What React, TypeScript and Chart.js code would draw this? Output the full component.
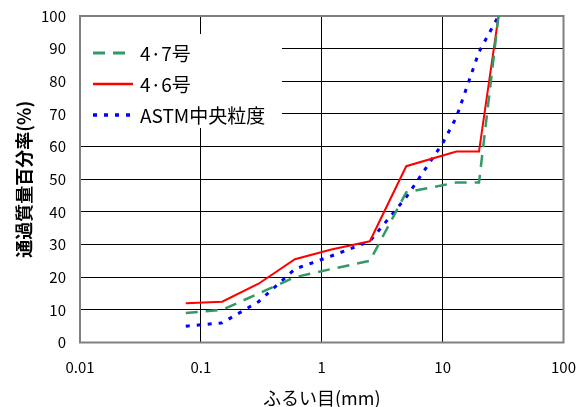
import React, { useEffect, useRef } from "react";
import { Chart, registerables } from "chart.js";

Chart.register(...registerables);

const xTickValues = [0.01, 0.1, 1, 10, 100];
const xTickLabels = ["0.01", "0.1", "1", "10", "100"];

const sieveCommon = [0.075, 0.15, 0.3, 0.6, 1.2, 2.5, 5, 13, 20, 29];
const pass47 = [9, 10, 15, 20, 22.5, 25, 46, 49, 49, 100];
const pass46 = [12, 12.5, 18, 25.5, 28.5, 31, 54, 58.5, 58.5, 100];
const sieveAstm = [0.075, 0.15, 0.3, 0.6, 1.2, 2.5, 5, 10, 13, 20, 29];
const passAstm = [5, 6, 12.5, 22.5, 26.5, 31, 44.5, 61, 69, 89, 100];

const seriesNames = ["4·7号", "4·6号", "ASTM中央粒度"];
const seriesColors = ["#339966", "#ff0000", "#0000ff"];
const seriesDash: number[][] = [[12, 8], [], [4, 7]];
const seriesWidth = [2.5, 2, 3];

const yTitle = "通過質量百分率(%)";
const xTitle = "ふるい目(mm)";
const FONT = "'Noto Sans CJK JP', 'Noto Sans', sans-serif";

const frame = {
  id: "frame",
  beforeDatasetsDraw(chart: any) {
    const { ctx, chartArea: a } = chart;
    ctx.save();
    ctx.strokeStyle = "#808080";
    ctx.lineWidth = 2;
    ctx.strokeRect(a.left, a.top, a.right - a.left, a.bottom - a.top);
    ctx.restore();
  },
  afterDatasetsDraw(chart: any) {
    const { ctx, chartArea: a } = chart;
    ctx.save();
    ctx.fillStyle = "#ffffff";
    const bx = a.left + 1;
    const by = 34;
    ctx.fillRect(bx, by, 282 - bx, 128 - by);
    const rows = [53, 84, 115];
    for (let i = 0; i < 3; i++) {
      ctx.beginPath();
      ctx.strokeStyle = seriesColors[i];
      ctx.lineWidth = seriesWidth[i] + 0.5;
      ctx.setLineDash(seriesDash[i]);
      ctx.moveTo(93, rows[i]);
      ctx.lineTo(133, rows[i]);
      ctx.stroke();
      ctx.setLineDash([]);
      ctx.fillStyle = "#000";
      ctx.font = `19px ${FONT}`;
      ctx.textBaseline = "middle";
      ctx.textAlign = "left";
      ctx.fillText(seriesNames[i], 140, rows[i] + 1);
    }
    ctx.restore();
  },
};

export default function App() {
  const ref = useRef<HTMLCanvasElement>(null);
  useEffect(() => {
    const mk = (xs: number[], ys: number[]) => xs.map((x, i) => ({ x, y: ys[i] }));
    const datas = [mk(sieveCommon, pass47), mk(sieveCommon, pass46), mk(sieveAstm, passAstm)];
    const chart = new Chart(ref.current as HTMLCanvasElement, {
      type: "line",
      data: {
        datasets: datas.map((d, i) => ({
          label: seriesNames[i],
          data: d,
          borderColor: seriesColors[i],
          backgroundColor: seriesColors[i],
          borderDash: seriesDash[i],
          borderWidth: seriesWidth[i],
          pointRadius: 0,
          tension: 0,
          fill: false,
        })),
      },
      options: {
        animation: false,
        responsive: false,
        maintainAspectRatio: false,
        layout: { padding: { top: 16, right: 19.5, left: 0, bottom: 0 } },
        plugins: { legend: { display: false }, tooltip: { enabled: false } },
        scales: {
          x: {
            type: "logarithmic",
            min: 0.01,
            max: 100,
            afterBuildTicks: (s: any) => {
              s.ticks = xTickValues.map((v) => ({ value: v }));
            },
            afterFit: (s: any) => {
              s.height = 64.5;
              s.paddingLeft = 0;
              s.paddingRight = 0;
            },
            ticks: {
              autoSkip: false,
              maxRotation: 0,
              padding: 16,
              color: "#000",
              font: { family: FONT, size: 15 },
              callback: (v: any) => {
                const i = xTickValues.findIndex((t) => Math.abs(t - Number(v)) < 1e-9);
                return i >= 0 ? xTickLabels[i] : "";
              },
            },
            grid: { color: "#000", lineWidth: 1, drawTicks: false },
            border: { display: false },
            title: {
              display: true,
              text: xTitle,
              color: "#000",
              font: { family: FONT, size: 18, lineHeight: 1 },
              padding: { top: 0, bottom: 0 },
            },
          },
          y: {
            min: 0,
            max: 100,
            afterFit: (s: any) => {
              s.width = 80;
              s.paddingTop = 0;
              s.paddingBottom = 0;
            },
            ticks: {
              stepSize: 10,
              padding: 14,
              color: "#000",
              font: { family: FONT, size: 15 },
            },
            grid: { color: "#000", lineWidth: 1, drawTicks: false },
            border: { display: false },
            title: {
              display: true,
              text: yTitle,
              color: "#000",
              font: { family: FONT, size: 18, weight: "bold", lineHeight: 1 },
              padding: { top: 15, bottom: 0 },
            },
          },
        },
      },
      plugins: [frame],
    } as any);
    return () => chart.destroy();
  }, []);
  return (
    <div style={{ position: "fixed", left: 0, top: 0, width: 583, height: 407, background: "#fff" }}>
      <canvas ref={ref} width={583} height={407} style={{ display: "block" }} />
    </div>
  );
}
